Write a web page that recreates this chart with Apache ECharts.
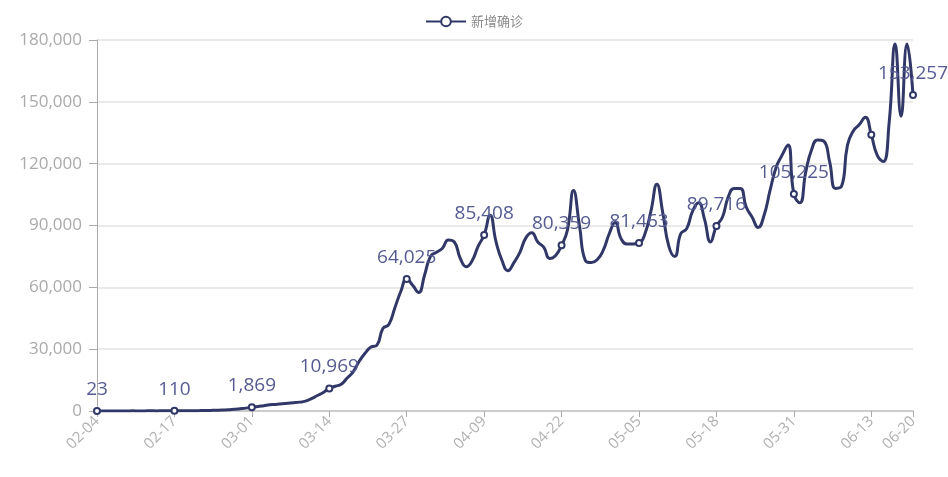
<!DOCTYPE html>
<html><head><meta charset="utf-8">
<script src="https://cdn.jsdelivr.net/npm/echarts@6/dist/echarts.min.js"></script>
<style>html,body{margin:0;padding:0;background:#fff}#c{width:948px;height:477px}</style>
</head><body><div id="c"></div>
<script>
// categories: 2020-02-04 .. 2020-06-20
const categories = (function(){
  const out=[]; const d=new Date(Date.UTC(2020,1,4)); const end=Date.UTC(2020,5,20);
  while(d.getTime()<=end){ out.push(String(d.getUTCMonth()+1).padStart(2,'0')+'-'+String(d.getUTCDate()).padStart(2,'0')); d.setUTCDate(d.getUTCDate()+1);} return out;
})();
const seriesName = '新增确诊';
const newCases = [
  23, 40, 30, 50, 60, 40, 70, 50, 60, 80, 50, 90, 70, 110,
  90, 120, 100, 180, 220, 300, 380, 460, 600, 800, 1100, 1400, 1869,
  2200, 2600, 3000, 3200, 3500, 3800, 4000, 4300, 4800, 6000, 7500, 9000, 10969,
  12000, 13000, 16000, 19000, 24000, 28000, 31000, 32000, 40000, 42000, 50000, 58000, 64025,
  61000, 57500, 66000, 75000, 77000, 79000, 83000, 82000, 74000, 70000, 73000, 80000, 85408,
  95000, 82000, 73000, 68000, 72000, 77000, 84000, 86500, 82000, 79500, 74000, 75500, 80359,
  88000, 107000, 90000, 73000, 72000, 73500, 78000, 86000, 91500, 83500, 81000, 81000, 81463,
  86000, 97000, 110000, 96000, 80000, 75000, 86000, 88500, 97000, 101000, 93000, 82000, 89716,
  94000, 104000, 108000, 108000, 99000, 94000, 89000, 95000, 107000, 118000, 124000, 129000, 105225,
  101000, 116000, 127000, 131500, 131000, 121000, 108000, 109000, 129000, 136000, 139000, 142500, 134000,
  124000, 121000, 140000, 178000, 143000, 178000, 153257
];
const yTicks = [0, 30000, 60000, 90000, 120000, 150000, 180000];
const labeledIdx = [0,13,26,39,52,65,78,91,104,117,137];
const markerIdx = [0,13,26,39,52,65,78,91,104,117,130,137];

const fmt = v => v.toLocaleString('en-US');
const data = newCases.map((v,i)=>{
  const item = {value:v};
  item.symbol = markerIdx.indexOf(i)>=0 ? 'emptyCircle' : 'none';
  if(labeledIdx.indexOf(i)>=0){ item.label={show:true}; }
  return item;
});
const lineColor = '#313868';
const chart = echarts.init(document.getElementById('c'));
chart.setOption({
  animation:false,
  legend:{data:[seriesName], top:10, left:'center', itemWidth:40, itemHeight:12, itemGap:8,
    textStyle:{color:'#888', fontSize:13, fontFamily:'Noto Sans CJK SC'}},
  grid:{left:97, right:35, top:40, bottom:66},
  xAxis:{type:'category', data:categories, boundaryGap:false,
    axisLine:{lineStyle:{color:'#cccccc', width:2}},
    axisTick:{interval:(i)=> i%13===0 || i===categories.length-1, length:6, lineStyle:{color:'#aaa'}},
    axisLabel:{interval:(i)=> i%13===0 || i===categories.length-1, rotate:45, color:'#b0b0b0', fontSize:15, margin:8, fontFamily:'Open Sans'}},
  yAxis:{type:'value', min:yTicks[0], max:yTicks[yTicks.length-1], interval:30000,
    axisLine:{show:true, lineStyle:{color:'#aaaaaa'}},
    axisTick:{show:true, length:8, lineStyle:{color:'#aaa'}},
    axisLabel:{color:'#aaaaaa', fontSize:17, formatter:fmt, margin:15, fontFamily:'Open Sans'},
    splitLine:{lineStyle:{color:'#e3e3e3', width:1.5}}},
  series:[{name:seriesName, type:'line', data:data, smooth:true, showAllSymbol:true,
    symbol:'emptyCircle', symbolSize:6,
    lineStyle:{color:lineColor, width:3},
    itemStyle:{color:lineColor, borderWidth:1.2},
    label:{show:false, position:'top', distance:8, color:'#555b92', fontSize:19, formatter:(p)=>fmt(p.value), fontFamily:'Open Sans'}}]
});
</script></body></html>
